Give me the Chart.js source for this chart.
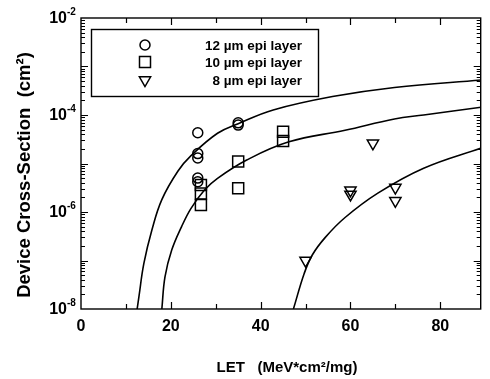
<!DOCTYPE html>
<html><head><meta charset="utf-8">
<script src="https://cdn.jsdelivr.net/npm/chart.js@4/dist/chart.umd.min.js"></script>
<style>html,body{margin:0;padding:0;background:#fff;overflow:hidden}canvas{display:block}</style>
</head><body><canvas id="c" width="490" height="379"></canvas>
<script>
// ---- data ----
const letCircles   = [26, 26, 26, 26, 26, 35, 35];
const sigmaCircles = [4.3e-5, 1.6e-5, 1.3e-5, 5.0e-6, 4.2e-6, 6.9e-5, 6.2e-5];
const letSquares   = [26.7, 26.7, 26.7, 35, 35, 45, 45];
const sigmaSquares = [3.6e-6, 2.4e-6, 1.4e-6, 1.1e-5, 3.1e-6, 4.5e-5, 2.9e-5];
const letTriangles   = [50, 60, 60, 65, 70, 70];
const sigmaTriangles = [1.0e-7, 2.8e-6, 2.3e-6, 2.6e-5, 3.2e-6, 1.7e-6];

const fit12Let   = [12.5, 12.9, 14.0, 15.8, 18.0, 21.6, 24.5, 30.4, 35.0, 42.8, 56.0, 69.8, 89.4];
const fit12Sigma = [1e-8, 1.8e-8, 8.7e-8, 4.3e-7, 1.8e-6, 7.0e-6, 1.45e-5, 4.2e-5, 6.6e-5, 1.27e-4, 2.4e-4, 3.7e-4, 5.3e-4];
const fit10Let   = [18.0, 18.7, 20.2, 22.4, 24.5, 27.5, 30.4, 36.9, 46.3, 58.8, 69.8, 76.3, 89.4];
const fit10Sigma = [1e-8, 4.6e-8, 1.64e-7, 5.0e-7, 1.19e-6, 2.84e-6, 4.95e-6, 1.18e-5, 2.8e-5, 4.84e-5, 8.3e-5, 1.0e-4, 1.46e-4];
const fit8Let    = [47.3, 49.7, 51.5, 54.4, 58.8, 66.1, 76.3, 89.2];
const fit8Sigma  = [1e-8, 5.4e-8, 1.3e-7, 3.0e-7, 7.7e-7, 2.45e-6, 8.0e-6, 2.1e-5];

const seriesNames = ['12 \u00b5m epi layer', '10 \u00b5m epi layer', '8 \u00b5m epi layer'];
const xTickLabels = [0, 20, 40, 60, 80];
const yTickExponents = [-8, -6, -4, -2];
const xTitle = 'LET   (MeV*cm\u00b2/mg)';
const yTitle = 'Device Cross-Section  (cm\u00b2)';

const pts = (xs, ys) => xs.map((x, i) => ({x: x, y: ys[i]}));

const FONT = '"Liberation Sans", Arial, Helvetica, sans-serif';

function drawMarker(ctx, kind, x, y) {
  ctx.beginPath();
  if (kind === 'circle') {
    ctx.arc(x, y, 5, 0, Math.PI * 2);
  } else if (kind === 'rect') {
    ctx.rect(x - 5.5, y - 5.5, 11, 11);
  } else {
    const r = 6.5;
    ctx.moveTo(x, y + r);
    ctx.lineTo(x - r * Math.sqrt(3) / 2, y - r / 2);
    ctx.lineTo(x + r * Math.sqrt(3) / 2, y - r / 2);
    ctx.closePath();
  }
  ctx.stroke();
}

const decorPlugin = {
  id: 'decor',
  afterDraw(chart) {
    const ctx = chart.ctx;
    const a = chart.chartArea;
    const xs = chart.scales.x, ys = chart.scales.y;
    ctx.save();
    ctx.strokeStyle = '#000';
    ctx.fillStyle = '#000';
    ctx.lineWidth = 1.4;
    ctx.strokeRect(a.left, a.top, a.right - a.left, a.bottom - a.top);
    // x ticks (inward, top and bottom)
    ctx.lineWidth = 1.2;
    for (let v = 10; v < xs.max; v += 10) {
      const px = Math.round(xs.getPixelForValue(v)) + 0.5;
      const len = (v % 20 === 0) ? 7 : 5;
      ctx.beginPath();
      ctx.moveTo(px, a.bottom); ctx.lineTo(px, a.bottom - len);
      ctx.moveTo(px, a.top); ctx.lineTo(px, a.top + len);
      ctx.stroke();
    }
    // y ticks (log), inward left and right
    for (let e = -8; e < -2; e++) {
      for (let m = 1; m <= 9; m++) {
        const v = m * Math.pow(10, e);
        if (m === 1 && e === -8) continue;
        const py = Math.round(ys.getPixelForValue(v)) + 0.5;
        const len = m === 1 ? 7 : 4;
        ctx.beginPath();
        ctx.moveTo(a.left, py); ctx.lineTo(a.left + len, py);
        ctx.moveTo(a.right, py); ctx.lineTo(a.right - len, py);
        ctx.stroke();
      }
    }
    // x tick labels
    ctx.font = 'bold 16px ' + FONT;
    ctx.textAlign = 'center';
    ctx.textBaseline = 'middle';
    xTickLabels.forEach(v => {
      ctx.fillText(String(v), xs.getPixelForValue(v), 327);
    });
    // y tick labels 10^e
    yTickExponents.forEach(e => {
      const py = ys.getPixelForValue(Math.pow(10, e));
      ctx.font = 'bold 16px ' + FONT;
      ctx.textAlign = 'right';
      ctx.textBaseline = 'middle';
      ctx.fillText('10', 67, py + 1);
      ctx.font = 'bold 10px ' + FONT;
      ctx.textAlign = 'left';
      ctx.fillText(String(e), 67, py - 6);
    });
    // axis titles
    ctx.font = 'bold 15px ' + FONT;
    ctx.textAlign = 'center';
    ctx.textBaseline = 'middle';
    ctx.fillText(xTitle, 287, 368);
    ctx.save();
    ctx.translate(25, 175);
    ctx.rotate(-Math.PI / 2);
    ctx.font = 'bold 18.5px ' + FONT;
    ctx.fillText(yTitle, 0, 0);
    ctx.restore();
    // legend
    ctx.lineWidth = 1.4;
    ctx.strokeRect(91.5, 29.5, 227, 67);
    const rowsY = [45, 62, 80];
    const kinds = ['circle', 'rect', 'triangle'];
    ctx.lineWidth = 1.5;
    kinds.forEach((k, i) => drawMarker(ctx, k, 145, rowsY[i]));
    ctx.font = 'bold 13.5px ' + FONT;
    ctx.textAlign = 'right';
    ctx.textBaseline = 'middle';
    seriesNames.forEach((s, i) => ctx.fillText(s, 302, rowsY[i] + 1));
    ctx.restore();
  }
};

const lineDs = (data) => ({
  type: 'line', data: data, borderColor: '#000', borderWidth: 1.6,
  pointRadius: 0, fill: false, tension: 0.4
});
const markDs = (data, style, radius, rotation) => ({
  type: 'scatter', data: data, showLine: false,
  pointStyle: style, pointRadius: radius, pointRotation: rotation || 0,
  pointBorderColor: '#000', pointBackgroundColor: 'rgba(0,0,0,0)', pointBorderWidth: 1.5
});

new Chart(document.getElementById('c'), {
  type: 'scatter',
  data: {
    datasets: [
      lineDs(pts(fit12Let, fit12Sigma)),
      lineDs(pts(fit10Let, fit10Sigma)),
      lineDs(pts(fit8Let, fit8Sigma)),
      markDs(pts(letCircles, sigmaCircles), 'circle', 5),
      markDs(pts(letSquares, sigmaSquares), 'rect', 7.8),
      markDs(pts(letTriangles, sigmaTriangles), 'triangle', 6.5, 180)
    ]
  },
  options: {
    responsive: false,
    animation: false,
    events: [],
    layout: { padding: { top: 18, right: 2, left: 0, bottom: 0 } },
    plugins: { legend: { display: false }, tooltip: { enabled: false } },
    scales: {
      x: {
        type: 'linear', min: 0, max: 89,
        grid: { display: false }, border: { display: false },
        ticks: { display: false },
        afterFit: s => { s.height = 70; }
      },
      y: {
        type: 'logarithmic', min: 1e-8, max: 1e-2,
        grid: { display: false }, border: { display: false },
        ticks: { display: false },
        afterFit: s => { s.width = 81; }
      }
    }
  },
  plugins: [decorPlugin]
});
</script></body></html>
